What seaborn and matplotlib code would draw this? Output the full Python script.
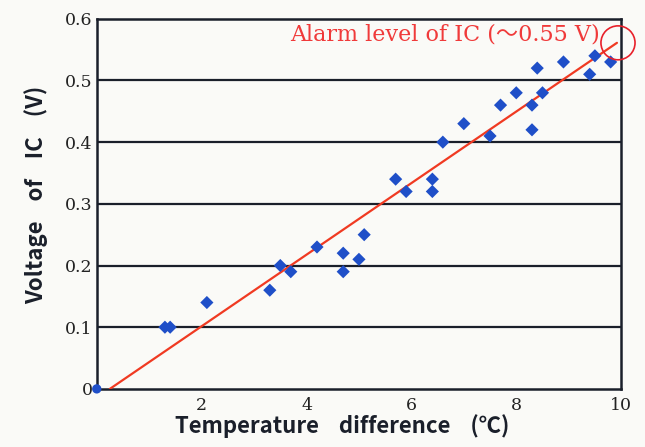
import numpy as np
import pandas as pd
import matplotlib
matplotlib.use("Agg")
import matplotlib.pyplot as plt
import seaborn as sns
from matplotlib.patches import Ellipse

# data
temp_diff = [1.3, 1.4, 2.1, 3.3, 3.5, 3.7, 4.2, 4.7, 4.7, 5.0, 5.1,
             5.7, 5.9, 6.4, 6.4, 6.6, 7.0, 7.5, 7.7, 8.0, 8.3, 8.3,
             8.4, 8.5, 8.9, 9.4, 9.5, 9.8]
voltage = [0.10, 0.10, 0.14, 0.16, 0.20, 0.19, 0.23, 0.22, 0.19, 0.21, 0.25,
           0.34, 0.32, 0.34, 0.32, 0.40, 0.43, 0.41, 0.46, 0.48, 0.46, 0.42,
           0.52, 0.48, 0.53, 0.51, 0.54, 0.53]
fit_x = [0.25, 9.92]
fit_y = [0.0, 0.561]
origin_x = [0.0]
origin_y = [0.0]
x_ticks = [2, 4, 6, 8, 10]
y_ticks = [0, 0.1, 0.2, 0.3, 0.4, 0.5, 0.6]
y_ticklabels = ["0", "0.1", "0.2", "0.3", "0.4", "0.5", "0.6"]
alarm_text = "Alarm level of IC (～0.55 V)"

df = pd.DataFrame({"x": temp_diff, "y": voltage})

sns.set_style("white")
bg = "#fafaf7"

fig = plt.figure(figsize=(6.45, 4.47), dpi=100, facecolor=bg)
ax = fig.add_axes([0.150, 0.130, 0.813, 0.828])
ax.set_facecolor(bg)

# grid lines at every 0.1 V
for yv in y_ticks[1:-1]:
    ax.axhline(yv, color="#1a1f2a", lw=1.6, zorder=1)

sns.lineplot(x=fit_x, y=fit_y, color="#f03a22", lw=1.6, ax=ax, zorder=3)
sns.scatterplot(data=df, x="x", y="y", marker="D", s=45, color="#1f4fc8",
                edgecolor="none", ax=ax, zorder=4, clip_on=False)
sns.scatterplot(x=origin_x, y=origin_y, marker="o", s=45, color="#1f4fc8",
                edgecolor="none", ax=ax, zorder=5, clip_on=False)

ax.set_xlim(0, 10)
ax.set_ylim(0, 0.6)
ax.set_xticks(x_ticks)
ax.set_yticks(y_ticks)
ax.set_yticklabels(y_ticklabels)

for sp in ax.spines.values():
    sp.set_color("#1a1f2a")
    sp.set_linewidth(1.8)

ax.tick_params(axis="x", direction="out", length=4, width=1, color="#1a1f2a",
               pad=2)
ax.tick_params(axis="y", length=0, pad=3)
for lab in ax.get_xticklabels() + ax.get_yticklabels():
    lab.set_family("DejaVu Serif")
    lab.set_fontsize(12.5)
    lab.set_color("#222")

label_font = ["Noto Sans CJK JP", "DejaVu Sans"]
ax.set_xlabel("Temperature    difference    (℃)", family=label_font,
              fontsize=16, fontweight="bold", color="#1a1f2a")
ax.set_ylabel("Voltage    of    IC    (V)", family=label_font,
              fontsize=16, fontweight="bold", color="#1a1f2a")
ax.xaxis.set_label_coords(0.468, -0.068)
ax.yaxis.set_label_coords(-0.093, 0.524)

ax.text(9.6, 0.574, alarm_text, color="#f03a3a", fontsize=16,
        family=["DejaVu Serif", "Noto Sans CJK JP"], ha="right", va="center",
        zorder=6, bbox=dict(facecolor=bg, edgecolor="none", pad=1))

circ = Ellipse((9.94, 0.561), width=0.65, height=0.055, fill=False,
               edgecolor="#e8202a", lw=1.2, clip_on=False, zorder=7)
ax.add_patch(circ)

fig.savefig("out.png", dpi=100, facecolor=bg)
